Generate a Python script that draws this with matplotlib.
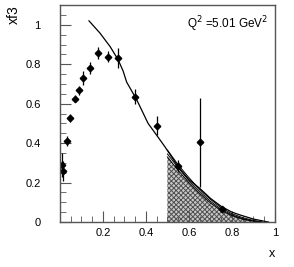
"""
xF3 structure function at Q^2 = 5.01 GeV^2, data with model curves.
"""

import matplotlib
matplotlib.use("Agg")
import matplotlib.pyplot as plt
from matplotlib.ticker import MultipleLocator


# ---------------------------------------------------------------------
# Data
# ---------------------------------------------------------------------

X_DATA = [0.008, 0.013, 0.031, 0.047, 0.070, 0.088, 0.108, 0.138,
          0.178, 0.222, 0.271, 0.349, 0.450, 0.550, 0.651, 0.752]
Y_DATA = [0.29, 0.26, 0.41, 0.527, 0.626, 0.667, 0.729, 0.783,
          0.859, 0.839, 0.831, 0.636, 0.489, 0.286, 0.405, 0.066]
Y_ERR = [0.06, 0.05, 0.025, 0.02, 0.02, 0.025, 0.035, 0.03,
         0.03, 0.03, 0.05, 0.04, 0.047, 0.03, 0.225, 0.015]

# main model curve
X_MAIN = [0.135, 0.186, 0.233, 0.271, 0.294, 0.31, 0.357, 0.41, 0.45,
          0.488, 0.55, 0.60, 0.651, 0.70, 0.752, 0.80, 0.837, 0.90,
          0.95, 0.97]
Y_MAIN = [1.02, 0.958, 0.89, 0.822, 0.765, 0.71, 0.62, 0.50, 0.44,
          0.382, 0.28, 0.215, 0.17, 0.12, 0.078, 0.05, 0.036, 0.015,
          0.004, 0.0]

# high-x variations
X_HIGH = [0.50, 0.55, 0.60, 0.65, 0.70, 0.75, 0.80, 0.85, 0.90, 0.94]
Y_HIGH_A = [0.365, 0.29, 0.225, 0.165, 0.115, 0.072, 0.042, 0.022, 0.008, 0.0]
Y_HIGH_B = [0.345, 0.275, 0.21, 0.155, 0.105, 0.064, 0.036, 0.017, 0.005, 0.0]
Y_HIGH_C = [0.33, 0.262, 0.20, 0.145, 0.097, 0.058, 0.032, 0.014, 0.004, 0.0]

Q2_LABEL = "Q$^2$ =5.01 GeV$^2$"


# ---------------------------------------------------------------------
# Plot
# ---------------------------------------------------------------------

plt.rcParams["font.family"] = ["Liberation Sans", "DejaVu Sans"]
plt.rcParams["hatch.linewidth"] = 0.7
plt.rcParams["hatch.color"] = "#505050"

fig = plt.figure(figsize=(2.94, 2.67), dpi=100)
ax = fig.add_axes([0.204, 0.1685, 0.731, 0.8125])

# shaded high-x band
ax.fill_between(X_HIGH, 0, Y_HIGH_C, facecolor="#c8c8c8",
                hatch="xxxxxxx", linewidth=0, edgecolor="#505050")

ax.plot(X_MAIN, Y_MAIN, color="black", lw=0.9)
for ys in (Y_HIGH_A, Y_HIGH_B, Y_HIGH_C):
    ax.plot(X_HIGH, ys, color="black", lw=0.7)

ax.errorbar(X_DATA, Y_DATA, yerr=Y_ERR, fmt="D", color="black",
            ms=3.3, elinewidth=0.9, capsize=0)

ax.set_xlim(0, 1)
ax.set_ylim(0, 1.1)
ax.xaxis.set_minor_locator(MultipleLocator(0.05))
ax.yaxis.set_minor_locator(MultipleLocator(0.05))
ax.set_xticks([0.2, 0.4, 0.6, 0.8, 1.0])
ax.set_xticklabels(["0.2", "0.4", "0.6", "0.8", "1"])
ax.set_yticks([0, 0.2, 0.4, 0.6, 0.8, 1.0])
ax.set_yticklabels(["0", "0.2", "0.4", "0.6", "0.8", "1"])

ax.tick_params(which="both", direction="in", top=False, right=False,
               labelsize=8)
ax.tick_params(axis="y", which="major", length=8, pad=14, color="#555555")
ax.tick_params(axis="y", which="minor", length=4, color="#555555")
ax.tick_params(axis="x", which="major", length=8, pad=4, color="#555555")
ax.tick_params(axis="x", which="minor", length=4, color="#555555")
for side in ax.spines.values():
    side.set_color("#555555")
    side.set_linewidth(1.0)

ax.text(0.97, 0.955, Q2_LABEL, transform=ax.transAxes, ha="right",
        va="top", fontsize=8.5)
fig.text(0.048, 0.98, "xf3", rotation=90, ha="center", va="top",
         fontsize=10)
fig.text(0.925, 0.05, "x", ha="center", va="center", fontsize=9)

fig.savefig("out.png", dpi=100)
